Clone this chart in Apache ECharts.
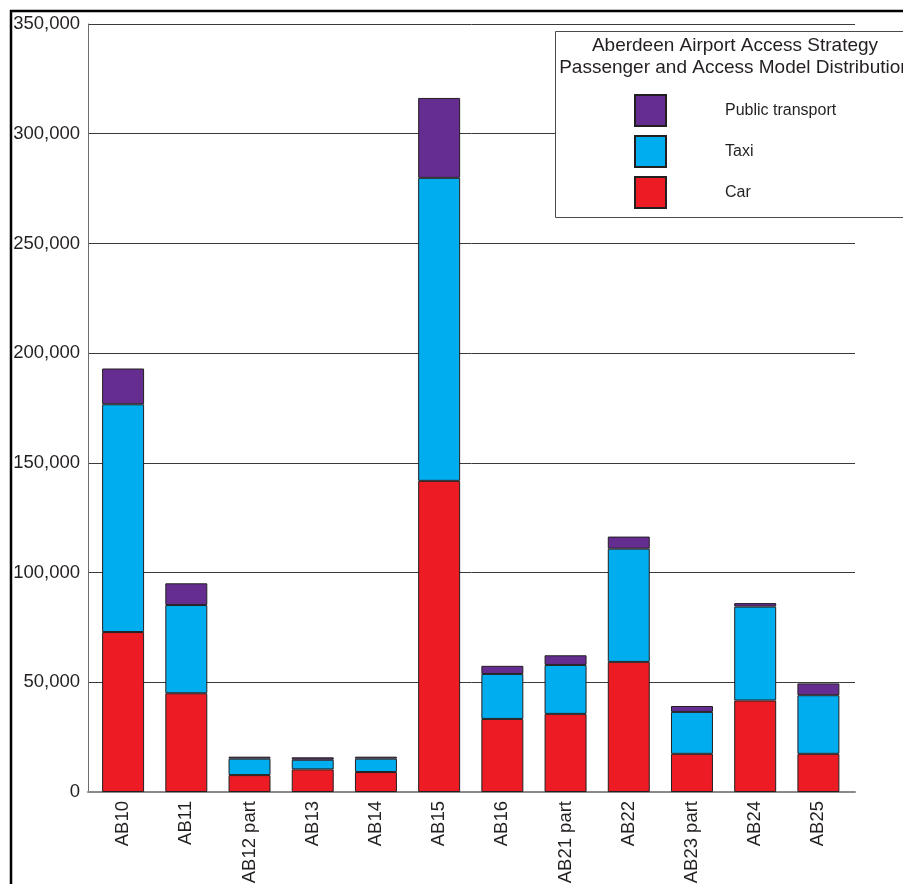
<!DOCTYPE html>
<html>
<head>
<meta charset="utf-8">
<script src="https://cdn.jsdelivr.net/npm/echarts@6/dist/echarts.min.js"></script>
<style>html,body{margin:0;padding:0;background:#fff;}#c{width:903px;height:884px;}</style>
</head>
<body>
<div id="c"></div>
<script>
const categories = ['AB10','AB11','AB12 part','AB13','AB14','AB15','AB16','AB21 part','AB22','AB23 part','AB24','AB25'];
const carValues = [72900, 45000, 7700, 10300, 9100, 141800, 33300, 35600, 59300, 17400, 41700, 17400];
const taxiValues = [103800, 40200, 7500, 4400, 6100, 138100, 20500, 22300, 51600, 19100, 42800, 26700];
const publicTransportValues = [16300, 9900, 900, 1100, 900, 36400, 3700, 4400, 5500, 2700, 1600, 5400];
const yTicks = [0, 50000, 100000, 150000, 200000, 250000, 300000, 350000];
const titleLines = ['Aberdeen Airport Access Strategy', 'Passenger and Access Model Distribution'];

const chart = echarts.init(document.getElementById('c'), null, {renderer: 'canvas'});
const font = 'Liberation Sans, Arial, sans-serif';
const barBorder = {borderColor: '#231f20', borderWidth: 1};
const yMin = yTicks[0], yMax = yTicks[yTicks.length - 1], yInt = yTicks[1] - yTicks[0];
const option = {
  backgroundColor: '#fff',
  animation: false,
  textStyle: {fontFamily: font, color: '#231f20'},
  grid: [
    {left: 88, right: 48, top: 24, bottom: 92, containLabel: false, outerBoundsMode: 'none'},
    {left: 91.5, right: 53, top: 24, bottom: 92, containLabel: false, outerBoundsMode: 'none'}
  ],
  xAxis: [
    {
      type: 'category', gridIndex: 0, data: categories,
      axisLine: {show: true, lineStyle: {color: '#8a8a8a', width: 2}},
      axisTick: {show: false}, axisLabel: {show: false}
    },
    {
      type: 'category', gridIndex: 1, data: categories,
      axisLine: {show: false}, axisTick: {show: false},
      axisLabel: {rotate: 90, fontSize: 18.5, color: '#231f20', margin: 9, fontFamily: font}
    }
  ],
  yAxis: [
    {
      type: 'value', gridIndex: 0, min: yMin, max: yMax, interval: yInt,
      axisLine: {show: true, lineStyle: {color: '#6d6d6d', width: 1}},
      axisTick: {show: false},
      splitLine: {show: true, lineStyle: {color: '#3a3a3a', width: 1}},
      axisLabel: {fontSize: 18.5, color: '#231f20', margin: 8, fontFamily: font,
        formatter: v => v.toLocaleString('en-US')}
    },
    {
      type: 'value', gridIndex: 1, min: yMin, max: yMax, interval: yInt,
      axisLine: {show: false}, axisTick: {show: false}, splitLine: {show: false}, axisLabel: {show: false}
    }
  ],
  legend: {
    data: ['Public transport', 'Taxi', 'Car'],
    orient: 'vertical',
    left: 634, top: 94, padding: 0, z: 20,
    itemWidth: 31, itemHeight: 31, itemGap: 8,
    icon: 'rect',
    textStyle: {fontSize: 16, color: '#231f20', fontFamily: font, padding: [0, 0, 0, 54]},
    selectedMode: false
  },
  graphic: [
    {type: 'rect', z: 10, shape: {x: 555.5, y: 31.5, width: 400, height: 186}, style: {fill: '#fff', stroke: '#4a4a4a', lineWidth: 1}},
    {type: 'text', z: 21, x: 735, y: 35, style: {text: titleLines.join('\n'), fill: '#231f20', font: '19px ' + font, textAlign: 'center', lineHeight: 22}},
    {type: 'line', z: 30, shape: {x1: 11, y1: 10, x2: 11, y2: 884}, style: {stroke: '#000', lineWidth: 2.5}},
    {type: 'line', z: 30, shape: {x1: 10, y1: 11, x2: 903, y2: 11}, style: {stroke: '#000', lineWidth: 2.5}}
  ],
  series: [
    {name: 'Car', type: 'bar', stack: 'all', xAxisIndex: 1, yAxisIndex: 1, data: carValues, barCategoryGap: '33.6%', itemStyle: Object.assign({color: '#ed1c24'}, barBorder)},
    {name: 'Taxi', type: 'bar', stack: 'all', xAxisIndex: 1, yAxisIndex: 1, data: taxiValues, itemStyle: Object.assign({color: '#00aeef'}, barBorder)},
    {name: 'Public transport', type: 'bar', stack: 'all', xAxisIndex: 1, yAxisIndex: 1, data: publicTransportValues, itemStyle: Object.assign({color: '#662d91'}, barBorder)}
  ]
};
chart.setOption(option);
</script>
</body>
</html>
